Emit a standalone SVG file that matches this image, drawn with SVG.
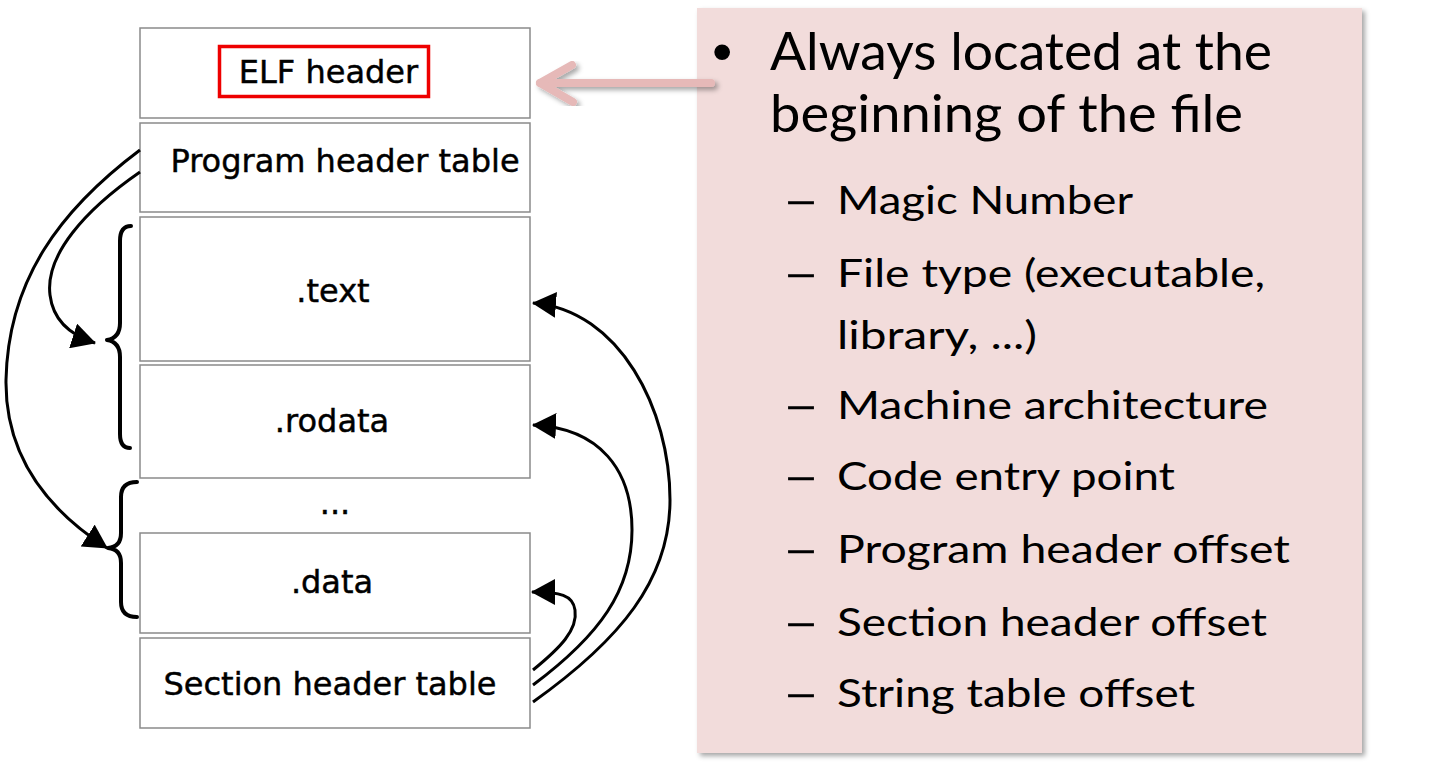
<svg xmlns="http://www.w3.org/2000/svg" width="1431" height="769" viewBox="0 0 1431 769">
<style>
.box{fill:#fff;stroke:#8a8a8a;stroke-width:1.5}
.lbl{font-family:"DejaVu Sans",sans-serif;font-size:32px;fill:#000;stroke:#000;stroke-width:0.45;text-anchor:middle}
.curve{fill:none;stroke:#000;stroke-width:3}
.brace{fill:none;stroke:#000;stroke-width:4;stroke-linecap:round;stroke-linejoin:round}
.t1{font-family:Lato,"Open Sans",sans-serif;font-size:53px;fill:#000}
.t2{font-family:Lato,"Open Sans",sans-serif;font-size:39px;fill:#000}
.dash{font-family:Lato,"Open Sans",sans-serif;font-size:39px;fill:#000;stroke:#000;stroke-width:0.6}
</style>
<defs>
<marker id="ah" markerUnits="userSpaceOnUse" viewBox="0 0 24 26" refX="23" refY="13" markerWidth="24" markerHeight="26" orient="auto">
<path d="M0,0 L24,13 L0,26 z" fill="#000"/>
</marker>
<filter id="sh" x="-10%" y="-10%" width="120%" height="120%">
<feDropShadow dx="3" dy="3" stdDeviation="2.5" flood-color="#000" flood-opacity="0.35"/>
</filter>
</defs>
<rect width="1431" height="769" fill="#fff"/>

<g id="panel">
<rect x="697" y="8" width="665" height="745" fill="#f2dcdb" filter="url(#sh)"/>
<text x="712" y="70.5" font-family="'Liberation Sans',sans-serif" font-size="58" fill="#000">•</text>
<text class="t1" x="770" y="70" textLength="502" lengthAdjust="spacingAndGlyphs">Always located at the</text>
<text class="t1" x="770" y="132" textLength="473" lengthAdjust="spacingAndGlyphs">beginning of the file</text>
<g class="t2">
<text class="dash" x="783" y="214" textLength="36" lengthAdjust="spacingAndGlyphs">–</text>
<text x="837" y="214" textLength="296" lengthAdjust="spacingAndGlyphs">Magic Number</text>
<text class="dash" x="783" y="287" textLength="36" lengthAdjust="spacingAndGlyphs">–</text>
<text x="837" y="287" textLength="428" lengthAdjust="spacingAndGlyphs">File type (executable,</text>
<text x="837" y="349" textLength="200" lengthAdjust="spacingAndGlyphs">library, ...)</text>
<text class="dash" x="783" y="419" textLength="36" lengthAdjust="spacingAndGlyphs">–</text>
<text x="837" y="419" textLength="431" lengthAdjust="spacingAndGlyphs">Machine architecture</text>
<text class="dash" x="783" y="490" textLength="36" lengthAdjust="spacingAndGlyphs">–</text>
<text x="837" y="490" textLength="338" lengthAdjust="spacingAndGlyphs">Code entry point</text>
<text class="dash" x="783" y="563" textLength="36" lengthAdjust="spacingAndGlyphs">–</text>
<text x="837" y="563" textLength="453" lengthAdjust="spacingAndGlyphs">Program header offset</text>
<text class="dash" x="783" y="636" textLength="36" lengthAdjust="spacingAndGlyphs">–</text>
<text x="837" y="636" textLength="430" lengthAdjust="spacingAndGlyphs">Section header offset</text>
<text class="dash" x="783" y="707" textLength="36" lengthAdjust="spacingAndGlyphs">–</text>
<text x="837" y="707" textLength="358" lengthAdjust="spacingAndGlyphs">String table offset</text>
</g>
</g>

<g id="elf-header">
<rect class="box" x="140" y="28" width="390" height="90"/>
<rect x="219.5" y="46.5" width="209" height="50" fill="none" stroke="#ee0000" stroke-width="3.5"/>
<text class="lbl" x="328.5" y="83">ELF header</text>
</g>
<g id="program-header-table">
<rect class="box" x="140" y="123" width="390" height="89"/>
<text class="lbl" x="345" y="172">Program header table</text>
</g>
<g id="text-section">
<rect class="box" x="140" y="217" width="390" height="144"/>
<text class="lbl" x="333" y="302">.text</text>
</g>
<g id="rodata-section">
<rect class="box" x="140" y="365" width="390" height="113"/>
<text class="lbl" x="332" y="432">.rodata</text>
</g>
<g id="ellipsis">
<text class="lbl" x="335" y="514">...</text>
</g>
<g id="data-section">
<rect class="box" x="140" y="533" width="390" height="100"/>
<text class="lbl" x="332" y="593">.data</text>
</g>
<g id="section-header-table">
<rect class="box" x="140" y="638" width="390" height="90"/>
<text class="lbl" x="330" y="695">Section header table</text>
</g>

<g id="braces">
<path class="brace" d="M131,226 Q120,226 120,241 L120,323 Q120,338 107,340 Q120,342 120,357 L120,434 Q120,448 130,448"/>
<path class="brace" d="M137,482 Q121,482 121,497 L121,533 Q121,547 108,548 Q121,549 121,563 L121,602 Q121,617 137,617"/>
</g>

<g id="connectors">
<path class="curve" d="M140,172 C85,210 45,255 50,295 C53,320 70,335 95,343" marker-end="url(#ah)"/>
<path class="curve" d="M140,150 C60,210 8,280 6,380 C5,450 40,505 107,548" marker-end="url(#ah)"/>
<path class="curve" d="M533,702 C620,640 670,580 670,500 C670,410 620,310 533,303" marker-end="url(#ah)"/>
<path class="curve" d="M533,685 C600,635 632,590 632,530 C632,470 600,428 533,425" marker-end="url(#ah)"/>
<path class="curve" d="M533,670 C560,648 578,630 575,610 C573,595 560,592 532,592" marker-end="url(#ah)"/>
<g filter="url(#sh)" fill="none" stroke="#e6b9b8" stroke-width="8" stroke-linecap="round" stroke-linejoin="round">
<path d="M711,83 L540,83"/>
<path d="M572,65 L540,83 L573,102"/>
</g>
</g>
</svg>
